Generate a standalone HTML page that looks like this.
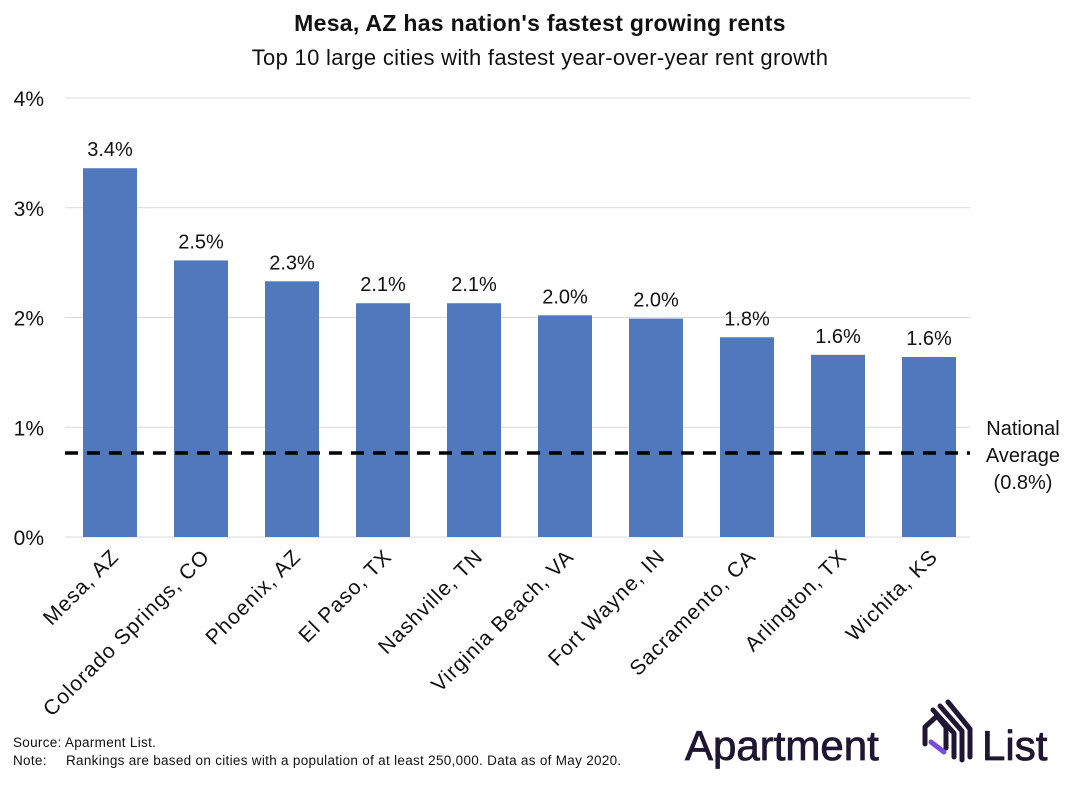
<!DOCTYPE html>
<html><head><meta charset="utf-8">
<style>
html,body{margin:0;padding:0;background:#fff;}
svg{display:block;font-family:"Liberation Sans",sans-serif;}
</style></head>
<body>
<svg id="chart" width="1081" height="788" viewBox="0 0 1081 788">
  <text x="540" y="31" text-anchor="middle" font-size="23" font-weight="bold" fill="#111" letter-spacing="0.3">Mesa, AZ has nation's fastest growing rents</text>
  <text x="540" y="65" text-anchor="middle" font-size="22" fill="#111" letter-spacing="0.3">Top 10 large cities with fastest year-over-year rent growth</text>
  <g id="grid"></g>
  <g id="bars"></g>
  <g id="xlabels"></g>
  <g id="natavg"></g>
  <text x="13" y="747" font-size="13.5" fill="#111" letter-spacing="0.3">Source: Aparment List.</text>
  <text x="13" y="765" font-size="13.5" fill="#111" letter-spacing="0.3">Note:<tspan x="66">Rankings are based on cities with a population of at least 250,000. Data as of May 2020.</tspan></text>
  <g>
    <text x="685" y="760" font-size="42" fill="#1e1633" stroke="#1e1633" stroke-width="0.8">Apartment</text>
    <g fill="none" stroke-width="5" stroke-linecap="round" stroke-linejoin="round">
      <path d="M925 744 L925 727 L937 716 L946 727 L946 748" stroke="#1e1633"/>
      <path d="M931 742 L944 752" stroke="#7b4ce0"/>
      <path d="M933 710 L954 733 L954 757" stroke="#1e1633"/>
      <path d="M940 706 L962 731 L962 760" stroke="#1e1633"/>
      <path d="M948 702 L970 729 L970 757" stroke="#1e1633"/>
    </g>
    <text x="982" y="760" font-size="42" fill="#1e1633" stroke="#1e1633" stroke-width="0.8">List</text>
  </g>
</svg>
<script>
const categories = ["Mesa, AZ","Colorado Springs, CO","Phoenix, AZ","El Paso, TX","Nashville, TN","Virginia Beach, VA","Fort Wayne, IN","Sacramento, CA","Arlington, TX","Wichita, KS"];
const values = [3.36, 2.52, 2.33, 2.13, 2.13, 2.02, 1.99, 1.82, 1.66, 1.64];
const valueLabels = ["3.4%","2.5%","2.3%","2.1%","2.1%","2.0%","2.0%","1.8%","1.6%","1.6%"];
const yTicks = [0,1,2,3,4];
const yTickLabels = ["0%","1%","2%","3%","4%"];
const nationalAverage = 0.765;

const NS="http://www.w3.org/2000/svg";
const y0=537, pxPer=109.75, xStart=110, step=91, barW=54, gridL=65, gridR=970;
const y=v=>y0-v*pxPer;
const x=i=>xStart+i*step;
function mk(tag,attrs,parent){const e=document.createElementNS(NS,tag);for(const k in attrs)e.setAttribute(k,attrs[k]);parent.appendChild(e);return e;}
const grid=document.getElementById('grid'),bars=document.getElementById('bars'),xl=document.getElementById('xlabels'),na=document.getElementById('natavg');
yTicks.forEach((t,i)=>{
  const l=mk('line',{x1:gridL,x2:gridR,y1:y(t),y2:y(t),stroke:'#d9d9d9','stroke-width':1},grid);
  
  
  const tx=mk('text',{x:44,y:y(t)+8,'text-anchor':'end','font-size':21,fill:'#111'},grid);
  tx.textContent=yTickLabels[i];
  
  
});
categories.forEach((c,i)=>{
  const r=mk('rect',{x:x(i)-barW/2,y:y(values[i]),width:barW,height:y0-y(values[i]),fill:'#4f78bd'},bars);
  
  
  const v=mk('text',{x:x(i),y:y(values[i])-12,'text-anchor':'middle','font-size':20,fill:'#111'},bars);
  v.textContent=valueLabels[i];
  
  
  const t=mk('text',{'text-anchor':'end','font-size':21,'letter-spacing':'1',fill:'#111',transform:'translate('+(x(i)+10)+',558) rotate(-45)'},xl);
  t.textContent=c;
  
  
});
const dl=mk('line',{x1:gridL,x2:gridR,y1:y(nationalAverage),y2:y(nationalAverage),stroke:'#000','stroke-width':3.5,'stroke-dasharray':'13 9'},na);


["National","Average","(0.8%)"].forEach((s,i)=>{
  const t=mk('text',{x:1023,y:y(nationalAverage)-18+i*27,'text-anchor':'middle','font-size':20,fill:'#111'},na);
  t.textContent=s;
  
  
});
</script>
</body></html>
